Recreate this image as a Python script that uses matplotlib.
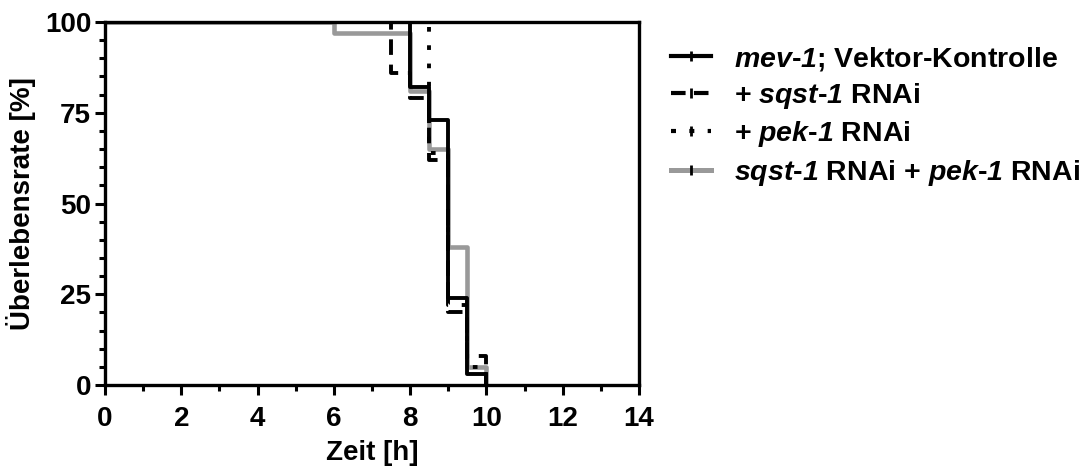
import matplotlib
matplotlib.use("Agg")
import matplotlib.pyplot as plt
from matplotlib.lines import Line2D
from matplotlib.ticker import MultipleLocator

plt.rcParams['font.family'] = ['Liberation Sans', 'DejaVu Sans']
plt.rcParams['font.weight'] = 'bold'
plt.rcParams['mathtext.fontset'] = 'custom'
plt.rcParams['mathtext.it'] = 'Liberation Sans:italic:bold'
plt.rcParams['mathtext.rm'] = 'Liberation Sans:italic:bold'

# Data (Kaplan-Meier steps)
t_ctrl = [0, 8, 8.5, 9, 9.5, 10]
s_ctrl = [100, 82, 73, 24, 3, 0]
t_sqst = [0, 7.5, 8, 8.5, 9, 9.5, 10]
s_sqst = [100, 86, 79, 62, 20, 8, 0]
t_pek = [0, 8.5, 9, 9.5, 10]
s_pek = [100, 64, 22, 5, 0]
t_both = [0, 6, 8, 8.5, 9, 9.5, 10]
s_both = [100, 97, 81, 65, 38, 5, 0]

labels = [r'$mev$-$1$; Vektor-Kontrolle',
          r'+ $sqst$-$1$ RNAi',
          r'+ $pek$-$1$ RNAi',
          r'$sqst$-$1$ RNAi + $pek$-$1$ RNAi']
xticks = [0, 2, 4, 6, 8, 10, 12, 14]
yticks = [0, 25, 50, 75, 100]

FS = 20

fig = plt.figure(figsize=(10.86, 4.73), dpi=100)
ax = fig.add_axes([0.0967, 0.186, 0.4917, 0.7675])

def stepline(t, s, **kw):
    tt = list(t) + [t[-1]]
    ss = list(s) + [s[-1]]
    return ax.step(tt, ss, where='post', **kw)

stepline(t_both, s_both, color='#999999', lw=3.3, zorder=2, solid_capstyle='butt')
stepline(t_ctrl, s_ctrl, color='black', lw=2.8, zorder=3)
stepline(t_sqst, s_sqst, color='black', lw=2.8, ls=(0, (4, 2.5)), zorder=3)
stepline(t_pek, s_pek, color='black', lw=2.8, ls=(0, (1.2, 3.5)), zorder=3)

ax.set_xlim(0, 14)
ax.set_ylim(0, 100)
ax.set_xticks(xticks)
ax.set_yticks(yticks)
ax.xaxis.set_minor_locator(MultipleLocator(1))
ax.yaxis.set_minor_locator(MultipleLocator(5))
ax.tick_params(axis='both', which='major', direction='out', length=7, width=2.2,
               labelsize=FS, pad=3)
ax.tick_params(axis='x', which='major', pad=8)
ax.tick_params(axis='both', which='minor', direction='out', length=4, width=2.2)
for sp in ax.spines.values():
    sp.set_linewidth(2.4)
    sp.set_color('black')
for lab in ax.get_xticklabels() + ax.get_yticklabels():
    lab.set_fontweight('bold')

ax.set_xlabel('Zeit [h]', fontsize=FS, fontweight='bold', labelpad=6)
ax.set_ylabel('Überlebensrate [%]', fontsize=FS, fontweight='bold', labelpad=6)

handles = [
    Line2D([], [], color='black', lw=3.0, marker='|', markersize=7, mew=2),
    Line2D([], [], color='black', lw=3.0, ls=(0, (3.5, 2.0)), marker='|', markersize=7, mew=2),
    Line2D([], [], color='black', lw=3.0, ls=(0, (1.2, 3.2)), marker='|', markersize=7, mew=2),
    Line2D([], [], color='#999999', lw=3.6, marker='|', markersize=7, mew=2, mec='black'),
]
fig.legend(handles, labels, loc='upper left', bbox_to_anchor=(0.618, 0.905),
           frameon=False, handlelength=1.4, handletextpad=0.8,
           labelspacing=0.29, borderaxespad=0, borderpad=0,
           prop={'weight': 'bold', 'size': 20.5})

fig.savefig('out.png', dpi=100)
